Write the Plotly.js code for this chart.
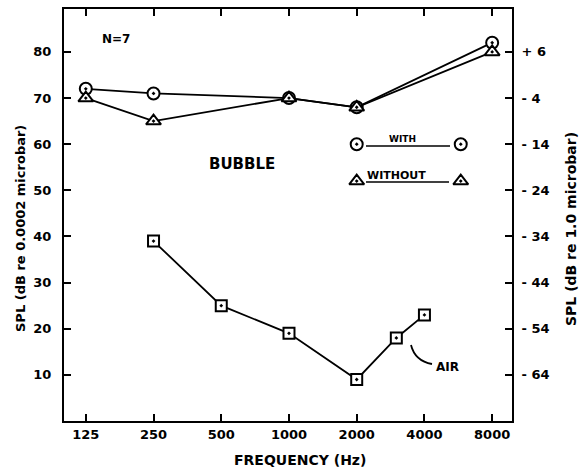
<!DOCTYPE html>
<html>
<head>
<meta charset="utf-8">
<script src="https://cdn.plot.ly/plotly-3.0.1.min.js"></script>
<style>html,body{margin:0;padding:0;background:#fff;}#chart{width:585px;height:473px;}</style>
</head>
<body>
<div id="chart"></div>
<script>
// ---- data ----
const freqWith = [125, 250, 1000, 2000, 8000];
const splWith = [72, 71, 70, 68, 82];
const freqWithout = [125, 250, 1000, 2000, 8000];
const splWithout = [70, 65, 70, 68, 80];
const freqAir = [250, 500, 1000, 2000, 3000, 4000];
const splAir = [39, 25, 19, 9, 18, 23];
const xTickVals = [125, 250, 500, 1000, 2000, 4000, 8000];
const xTickLabels = ['125', '250', '500', '1000', '2000', '4000', '8000'];
const leftTickVals = [10, 20, 30, 40, 50, 60, 70, 80];
const leftTickLabels = ['10', '20', '30', '40', '50', '60', '70', '80'];
const rightTickVals = [6, -4, -14, -24, -34, -44, -54, -64];
const rightTickLabels = ['+ 6', '- 4', '- 14', '- 24', '- 34', '- 44', '- 54', '- 64'];
const refOffset = 74; // 0.0002 microbar scale minus 1.0 microbar scale

// key (legend) placement
const keyFreq = [2000, 5800];
const keyWithLevel = [60, 60];
const keyWithoutLevel = [52, 52];

const FONT = 'DejaVu Sans, Liberation Sans, sans-serif';
const yMax = 89.3;

function mk(symbol, size) {
  return {symbol: symbol, size: size, color: '#fff', line: {color: '#000', width: 2}};
}

const traces = [
  {x: freqAir, y: splAir, mode: 'lines+markers', line: {color: '#000', width: 1.8},
   marker: mk('square-dot', 11), showlegend: false, hoverinfo: 'skip'},
  {x: freqWith, y: splWith, mode: 'lines+markers', line: {color: '#000', width: 1.8},
   marker: mk('circle-dot', 12), showlegend: false, hoverinfo: 'skip'},
  {x: freqWithout, y: splWithout, mode: 'lines+markers', line: {color: '#000', width: 1.8},
   marker: mk('triangle-up-dot', 13), showlegend: false, hoverinfo: 'skip'},
  {x: keyFreq, y: keyWithLevel, mode: 'markers', marker: mk('circle-dot', 12), showlegend: false, hoverinfo: 'skip'},
  {x: keyFreq, y: keyWithoutLevel, mode: 'markers', marker: mk('triangle-up-dot', 13), showlegend: false, hoverinfo: 'skip'},
  {x: [keyFreq[0]], y: [rightTickVals[0]], yaxis: 'y2', mode: 'markers', marker: {opacity: 0}, showlegend: false, hoverinfo: 'skip'}
];

// pixel helpers for decorations (plot area: x 64..512, y 9..421)
const L = 64, R = 512, T = 9, B = 421;
const px = v => (v - L) / (R - L);
const py = v => (B - v) / (B - T);

function note(text, x, y, size, extra) {
  return Object.assign({text: text, xref: 'paper', yref: 'paper', x: px(x), y: py(y),
    xanchor: 'center', yanchor: 'middle', showarrow: false,
    font: {family: FONT, size: size, weight: 'bold', color: '#000'}}, extra || {});
}

const layout = {
  width: 585, height: 473,
  margin: {l: L, r: 585 - R, t: T, b: 473 - B},
  paper_bgcolor: '#fff', plot_bgcolor: '#fff',
  font: {family: FONT, color: '#000', size: 13},
  showlegend: false,
  xaxis: {
    type: 'log', range: [Math.log10(100), Math.log10(9800)],
    tickvals: xTickVals, ticktext: xTickLabels,
    ticks: 'inside', ticklen: 7, tickwidth: 2, tickcolor: '#000',
    showline: true, linecolor: '#000', linewidth: 2, mirror: 'ticks',
    showgrid: false, zeroline: false,
    tickfont: {family: FONT, size: 13, weight: 'bold'},
    ticklabelstandoff: 0
  },
  yaxis: {
    range: [0, yMax],
    tickvals: leftTickVals, ticktext: leftTickLabels,
    ticks: 'inside', ticklen: 7, tickwidth: 2, tickcolor: '#000',
    showline: true, linecolor: '#000', linewidth: 2, mirror: true,
    showgrid: false, zeroline: false,
    tickfont: {family: FONT, size: 13, weight: 'bold'},
    ticklabelstandoff: 8
  },
  yaxis2: {
    overlaying: 'y', side: 'right',
    range: [0 - refOffset, yMax - refOffset],
    tickvals: rightTickVals, ticktext: rightTickLabels,
    ticks: 'inside', ticklen: 7, tickwidth: 2, tickcolor: '#000',
    showline: true, linecolor: '#000', linewidth: 2,
    showgrid: false, zeroline: false,
    tickfont: {family: FONT, size: 13, weight: 'bold'},
    ticklabelstandoff: 5
  },
  shapes: [
    // key lines
    {type: 'line', xref: 'paper', yref: 'paper', x0: px(366), x1: px(450), y0: py(146), y1: py(146), line: {color: '#000', width: 1.5}},
    {type: 'line', xref: 'paper', yref: 'paper', x0: px(366), x1: px(449), y0: py(182), y1: py(182), line: {color: '#000', width: 1.5}},
    // curved pointer for AIR
    {type: 'path', xref: 'paper', yref: 'paper',
     path: 'M ' + px(411) + ' ' + py(345) + ' Q ' + px(415) + ' ' + py(361) + ' ' + px(432) + ' ' + py(364),
     line: {color: '#000', width: 1.8}}
  ],
  annotations: [
    note('N=7', 116, 39, 12),
    note('BUBBLE', 242, 164, 15),
    note('WITH', 402, 139, 9),
    note('WITHOUT', 396, 175, 11),
    note('AIR', 434, 367, 12, {xanchor: 'left'}),
    note('FREQUENCY (Hz)', 300, 460, 14),
    note('SPL (dB re 0.0002 microbar)', 20, 229, 13, {textangle: -90}),
    note('SPL (dB re 1.0 microbar)', 571, 229, 14, {textangle: -90})
  ]
};

Plotly.newPlot('chart', traces, layout, {staticPlot: true, displayModeBar: false});
</script>
</body>
</html>
